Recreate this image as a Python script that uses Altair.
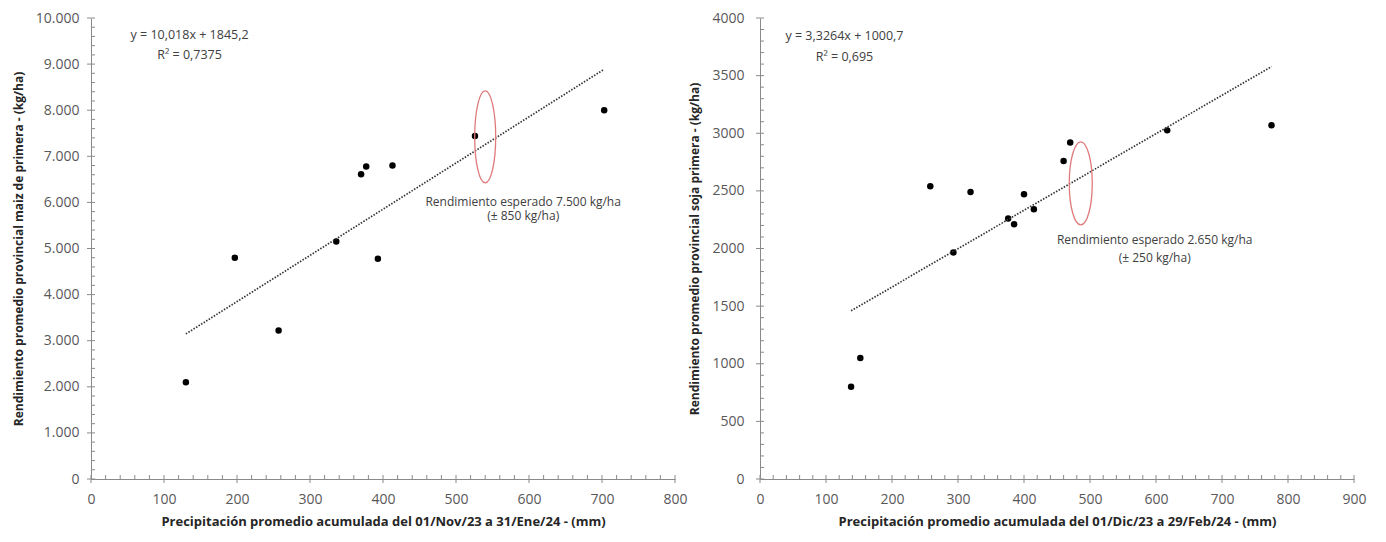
import altair as alt
import pandas as pd

# ---------------- data ----------------
maiz_precip = [130, 197, 257, 336, 370, 377, 393, 413, 526, 703]
maiz_yield = [2100, 4800, 3220, 5150, 6610, 6780, 4780, 6800, 7440, 8000]
maiz_slope, maiz_intercept = 10.018, 1845.2
maiz_eq = ["y = 10,018x + 1845,2", "R² = 0,7375"]
maiz_eq_x = [135, 135]
maiz_eq_y = [9630, 9190]
maiz_note = ["Rendimiento esperado 7.500 kg/ha", "(± 850 kg/ha)"]
maiz_note_x = [592, 592]
maiz_note_y = [6010, 5700]
maiz_ellipse = (540, 7420)

soja_precip = [138, 152, 258, 293, 319, 376, 385, 400, 415, 460, 470, 617, 775]
soja_yield = [800, 1050, 2540, 1965, 2490, 2260, 2210, 2470, 2340, 2760, 2920, 3025, 3070]
soja_slope, soja_intercept = 3.3264, 1000.7
soja_eq = ["y = 3,3264x + 1000,7", "R² = 0,695"]
soja_eq_x = [128, 128]
soja_eq_y = [3840, 3665]
soja_note = ["Rendimiento esperado 2.650 kg/ha", "(± 250 kg/ha)"]
soja_note_x = [598, 598]
soja_note_y = [2071, 1915]
soja_ellipse = (486, 2565)

FONT = "Open Sans"
AXIS_COLOR = "#8a8a8a"
LABEL_COLOR = "#595959"
TEXT_COLOR = "#404040"
H = 461


def ellipse_path(a):
    k = 0.5523
    return (f"M0,-1 C{k*a:.4f},-1 {a:.4f},{-k:.4f} {a:.4f},0 "
            f"C{a:.4f},{k:.4f} {k*a:.4f},1 0,1 "
            f"C{-k*a:.4f},1 {-a:.4f},{k:.4f} {-a:.4f},0 "
            f"C{-a:.4f},{-k:.4f} {-k*a:.4f},-1 0,-1 Z")


def panel(px, py, slope, intercept, eq, eqx, eqy, note, notex, notey, ell,
          xmax, xstep, xminor, ymax, ystep, yminor, xtitle, ytitle, W,
          ylabel_expr, ypad, ytitlepad, ell_size, ell_a):
    xs = alt.Scale(domain=[0, xmax], nice=False, zero=True)
    ys = alt.Scale(domain=[0, ymax], nice=False, zero=True)
    xaxis = alt.Axis(title=xtitle, values=list(range(0, xmax + 1, xstep)), ticks=False,
                     grid=False, domainColor=AXIS_COLOR, domainWidth=1,
                     labelFont=FONT, labelFontSize=14, labelColor=LABEL_COLOR,
                     labelPadding=13, labelFlush=False, labelOverlap=False,
                     titleFont=FONT, titleFontSize=13, titleFontWeight="bold",
                     titleColor="#262626", titlePadding=9)
    yaxis = alt.Axis(title=ytitle, values=list(range(0, ymax + 1, ystep)), ticks=False,
                     grid=False, domainColor=AXIS_COLOR, domainWidth=1,
                     labelFont=FONT, labelFontSize=14, labelColor=LABEL_COLOR,
                     labelPadding=ypad, labelFlush=False, labelOverlap=False,
                     labelExpr=ylabel_expr,
                     titleFont=FONT, titleFontSize=12, titleFontWeight="bold",
                     titleColor="#262626", titlePadding=ytitlepad)

    def X(f):
        return alt.X(f, scale=xs, axis=xaxis)

    def Y(f):
        return alt.Y(f, scale=ys, axis=yaxis)

    pts = pd.DataFrame({"x": px, "y": py})
    base_pts = alt.Chart(pts).mark_circle(size=42, color="black", opacity=1).encode(
        x=X("x:Q"), y=Y("y:Q"))
    trend = alt.Chart(pts).transform_calculate(
        fit=f"{slope}*datum.x + {intercept}"
    ).mark_line(color="#333333", strokeDash=[1.5, 1.5], strokeWidth=1.7).encode(
        x=X("x:Q"), y=Y("fit:Q"))
    xmaj = pd.DataFrame({"x": list(range(0, xmax + 1, xstep))})
    xmin = pd.DataFrame({"x": [v for v in range(0, xmax + 1, xminor) if v % xstep]})
    ymaj = pd.DataFrame({"y": list(range(0, ymax + 1, ystep))})
    ymin = pd.DataFrame({"y": [v for v in range(0, ymax + 1, yminor) if v % ystep]})
    tick_x_major = alt.Chart(xmaj).mark_rule(color=AXIS_COLOR).encode(
        x=X("x:Q"), y=alt.value(H - 4), y2=alt.value(H + 4))
    tick_x_minor = alt.Chart(xmin).mark_rule(color=AXIS_COLOR).encode(
        x=X("x:Q"), y=alt.value(H - 4), y2=alt.value(H))
    tick_y_major = alt.Chart(ymaj).mark_rule(color=AXIS_COLOR).encode(
        y=Y("y:Q"), x=alt.value(-4), x2=alt.value(4))
    tick_y_minor = alt.Chart(ymin).mark_rule(color=AXIS_COLOR).encode(
        y=Y("y:Q"), x=alt.value(0), x2=alt.value(4))

    eqdf = pd.DataFrame({"x": eqx, "y": eqy, "t": eq})
    eqtext = alt.Chart(eqdf).mark_text(font=FONT, fontSize=12.5, color=TEXT_COLOR,
                                       align="center", baseline="middle").encode(
        x=X("x:Q"), y=Y("y:Q"), text="t:N")
    notedf = pd.DataFrame({"x": notex, "y": notey, "t": note})
    notetext = alt.Chart(notedf).mark_text(font=FONT, fontSize=12, color=TEXT_COLOR,
                                           align="center", baseline="middle").encode(
        x=X("x:Q"), y=Y("y:Q"), text="t:N")
    elldf = pd.DataFrame({"x": [ell[0]], "y": [ell[1]]})
    ellipse = alt.Chart(elldf).mark_point(shape=ellipse_path(ell_a), size=ell_size,
                                          filled=False, stroke="#e07a7a", strokeWidth=1.3,
                                          opacity=1).encode(
        x=X("x:Q"), y=Y("y:Q"))

    return alt.layer(base_pts, trend, tick_x_major, tick_x_minor, tick_y_major,
                     tick_y_minor, ellipse, eqtext, notetext).properties(width=W, height=H)


left = panel(maiz_precip, maiz_yield, maiz_slope, maiz_intercept, maiz_eq, maiz_eq_x, maiz_eq_y,
             maiz_note, maiz_note_x, maiz_note_y, maiz_ellipse,
             800, 100, 20, 10000, 1000, 200,
             "Precipitación promedio acumulada del 01/Nov/23 a 31/Ene/24 - (mm)",
             "Rendimiento promedio provincial maiz de primera - (kg/ha)", 584,
             "replace(format(datum.value, ','), ',', '.')", 12, 10, 8464, 0.228)

right = panel(soja_precip, soja_yield, soja_slope, soja_intercept, soja_eq, soja_eq_x, soja_eq_y,
              soja_note, soja_note_x, soja_note_y, soja_ellipse,
              900, 100, 20, 4000, 500, 100,
              "Precipitación promedio acumulada del 01/Dic/23 a 29/Feb/24 - (mm)",
              "Rendimiento promedio provincial soja primera - (kg/ha)", 594,
              "format(datum.value, 'd')", 16, 10, 6889, 0.277)

chart = alt.hconcat(left, right, spacing=0).properties(
    padding={"left": 4, "top": 3, "right": 5, "bottom": 5},
    background="white").configure_view(strokeWidth=0)

chart.save("out.html", embed_options={"renderer": "svg", "actions": False})
